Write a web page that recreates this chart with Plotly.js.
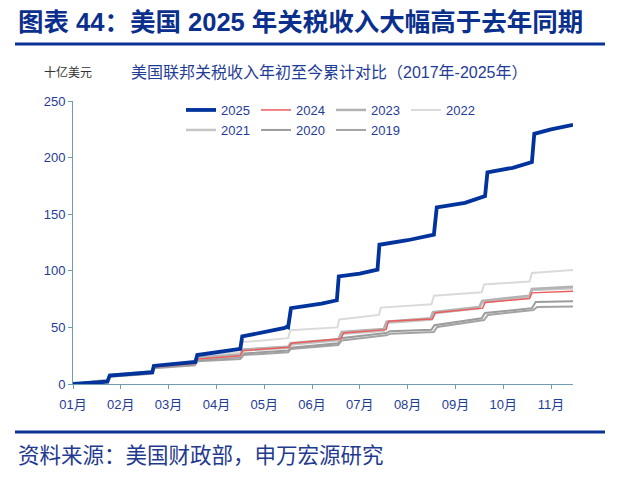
<!DOCTYPE html>
<html>
<head>
<meta charset="utf-8">
<script src="https://cdn.plot.ly/plotly-3.0.1.min.js"></script>
<style>
html,body{margin:0;padding:0;background:#fff;}
#chart{width:643px;height:478px;}
</style>
</head>
<body>
<div id="chart"></div>
<script>
// x positions are in "months since Jan 1" (0 = 01月, 1 = 02月, ...)
var monthTicks = [0,1,2,3,4,5,6,7,8,9,10];
var monthLabels = ["01月","02月","03月","04月","05月","06月","07月","08月","09月","10月","11月"];

var x2025 = [0,0.72,0.77,1.66,1.69,2.56,2.6,3.5,3.54,4.2,4.43,4.47,4.5,4.56,5.2,5.52,5.56,6.0,6.37,6.41,7.0,7.55,7.61,8.2,8.52,8.58,8.62,8.67,9.2,9.6,9.65,10.0,10.46];
var y2025 = [0,2,7.5,10.5,16,19.5,25.6,31,42,47,49.5,50.5,50,67,71,74,95,97.5,101,123,127,132,156,160,164,165,166,187,191,196,221,225,229];

var x2024 = [0,0.72,0.77,1.66,1.7,2.55,2.6,3.5,3.55,4.52,4.57,5.6,5.66,6.55,6.6,7.52,7.58,8.57,8.62,9.55,9.6,10.46];
var y2024 = [0,3,7.5,10.5,15,18,22,25,29.5,32.5,36,40,45,48,55.5,57.5,63,67,72,75.5,80.5,82];

var x2023 = [0,0.72,0.76,1.66,1.7,2.55,2.59,3.5,3.55,4.5,4.55,5.55,5.62,6.5,6.56,7.48,7.53,8.5,8.56,9.55,9.6,10.46];
var y2023 = [0,3.5,8,11,16,19,23.5,26,30.5,33,36,39.5,46,48.5,55,58,63.5,68,73.5,78,84,86];

var x2022 = [0,0.72,0.76,1.66,1.7,2.55,2.59,3.5,3.55,4.5,4.55,5.53,5.57,6.4,6.44,7.5,7.55,8.55,8.6,9.55,9.6,10.46];
var y2022 = [0,3.5,8,11,17,20,25.5,28,37,40.5,47.5,50,57,61,67.5,70.5,78,81,88,90.5,98,100.7];

var x2021 = [0,0.72,0.76,1.66,1.7,2.55,2.6,3.5,3.56,4.5,4.56,5.55,5.62,6.5,6.56,7.5,7.56,8.5,8.56,9.55,9.6,10.46];
var y2021 = [0,3,7.5,10.5,15.5,18.5,22.5,25,29.5,32,35,38.5,44.5,47,54,57,62.5,67,72,77,83,84.5];

var x2020 = [0,0.72,0.77,1.66,1.7,2.55,2.6,3.5,3.56,4.5,4.55,5.55,5.6,6.55,6.63,7.5,7.56,8.55,8.62,9.6,9.68,10.46];
var y2020 = [0,3,7,9.5,14.5,17,21,23.5,27,29.5,32,36,40.5,45,46.5,48,52,58,62.7,67,72.4,73];

var x2019 = [0,0.72,0.77,1.66,1.7,2.55,2.6,3.5,3.57,4.5,4.56,5.55,5.62,6.55,6.65,7.55,7.62,8.6,8.68,9.63,9.71,10.46];
var y2019 = [0,3,6.5,9,14,16.5,20,22,25.6,28,31,34.5,38.5,43,44.5,46,50.4,56.5,61,65.4,68,68.5];

var FONT = "Liberation Sans, Arial, Noto Sans CJK SC, sans-serif";
var BLUE = "#1f3c96";
var AXIS = "#6f9db3";

function tr(name, x, y, color, width, legend, rank) {
  return {type:"scatter", mode:"lines", name:name, x:x, y:y,
    line:{color:color, width:width, shape:"linear"},
    legend:legend, legendrank:rank, hoverinfo:"skip"};
}

var data = [
  tr("2019", x2019, y2019, "#a3a3a3", 2, "legend2", 7),
  tr("2020", x2020, y2020, "#9c9c9c", 2, "legend2", 6),
  tr("2021", x2021, y2021, "#c6c6c6", 2.5, "legend2", 5),
  tr("2022", x2022, y2022, "#dadada", 2, "legend", 4),
  tr("2023", x2023, y2023, "#b3b3b3", 2.5, "legend", 3),
  tr("2024", x2024, y2024, "#ec5c5c", 1.5, "legend", 2),
  tr("2025", x2025, y2025, "#00339c", 3.8, "legend", 1)
];

var W = 643, H = 478, L = 73, R = 70, T = 101, B = 94;
var pw = W - L - R, ph = H - T - B;
function px(v){ return (v - L) / pw; }
function py(v){ return (H - B - v) / ph; }

var legendCommon = {orientation:"h", xanchor:"left", yanchor:"middle",
  entrywidth:30, entrywidthmode:"pixels", bgcolor:"rgba(0,0,0,0)",
  font:{family:FONT, size:13, color:BLUE}, tracegroupgap:0, itemclick:false};

var layout = {
  width:W, height:H,
  margin:{l:L, r:R, t:T, b:B, pad:0},
  paper_bgcolor:"#fff", plot_bgcolor:"#fff",
  font:{family:FONT, color:BLUE},
  showlegend:true,
  legend: Object.assign({}, legendCommon, {x:px(181), y:py(110)}),
  legend2: Object.assign({}, legendCommon, {x:px(181), y:py(130)}),
  xaxis:{range:[0,10.46], tickmode:"array", tickvals:monthTicks, ticktext:monthLabels,
    showgrid:false, zeroline:false, showline:true, linecolor:AXIS, linewidth:1,
    ticks:"outside", ticklen:4, tickcolor:AXIS, ticklabelstandoff:4,
    tickfont:{family:FONT, size:13, color:BLUE}, fixedrange:true},
  yaxis:{range:[0,250], tickvals:[0,50,100,150,200,250], showgrid:false, zeroline:false,
    showline:true, linecolor:AXIS, linewidth:1, ticks:"outside", ticklen:4, tickcolor:AXIS,
    tickfont:{family:FONT, size:13, color:BLUE}, fixedrange:true},
  shapes:[
    {type:"line", xref:"paper", yref:"paper", x0:px(15), x1:px(605), y0:py(44), y1:py(44),
      line:{color:"#0a3296", width:3}},
    {type:"line", xref:"paper", yref:"paper", x0:px(15), x1:px(605), y0:py(432), y1:py(432),
      line:{color:"#0a3296", width:3}}
  ],
  annotations:[
    {xref:"paper", yref:"paper", x:px(16), y:py(22), xanchor:"left", yanchor:"middle", showarrow:false,
      text:"<b>图表 44：美国 2025 年关税收入大幅高于去年同期</b>",
      font:{family:FONT, size:25.5, color:"#0b2f8c"}},
    {xref:"paper", yref:"paper", x:px(42), y:py(73), xanchor:"left", yanchor:"middle", showarrow:false,
      text:"十亿美元", font:{family:FONT, size:12, color:"#333333"}},
    {xref:"paper", yref:"paper", x:px(329), y:py(73), xanchor:"center", yanchor:"middle", showarrow:false,
      text:"美国联邦关税收入年初至今累计对比（2017年-2025年）", font:{family:FONT, size:16, color:BLUE}},
    {xref:"paper", yref:"paper", x:px(16), y:py(456), xanchor:"left", yanchor:"middle", showarrow:false,
      text:"资料来源：美国财政部，申万宏源研究", font:{family:FONT, size:21.5, color:"#1f3a8f"}}
  ]
};

Plotly.newPlot("chart", data, layout, {displayModeBar:false, staticPlot:true});
</script>
</body>
</html>
